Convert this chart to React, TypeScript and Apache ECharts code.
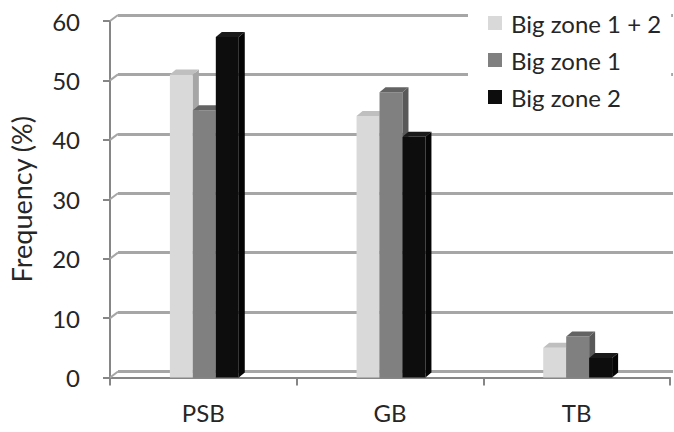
import React, { useEffect, useRef } from "react";
import * as echarts from "echarts";

const categories = ["PSB", "GB", "TB"];
const seriesNames = ["Big zone 1 + 2", "Big zone 1", "Big zone 2"];
const zone12 = [51, 44, 5];
const zone1 = [45, 48, 6.9];
const zone2 = [57.3, 40.5, 3.3];
const yTicks = [0, 10, 20, 30, 40, 50, 60];

const FONT = "Lato";
const TEXT = "#262626";
const FS = 24;
const faces = [
  { front: "#d9d9d9", side: "#a6a6a6", top: "#bfbfbf" },
  { front: "#808080", side: "#595959", top: "#636363" },
  { front: "#0d0d0d", side: "#050505", top: "#1a1a1a" },
];
const DX = 6;
const DY = 5;

function barRenderer(sIdx: number) {
  return (params: any, api: any) => {
    const cat = api.value(0);
    const val = api.value(1);
    const base = api.coord([cat, 0]);
    const topPt = api.coord([cat, val]);
    const band = api.size([1, 0])[0];
    const bw = band * 0.123;
    const left = base[0] + 1 - 1.5 * bw + sIdx * bw;
    const right = left + bw;
    const yb = base[1];
    const yt = topPt[1];
    const f = faces[sIdx];
    return {
      type: "group",
      children: [
        {
          type: "rect",
          shape: { x: left, y: yt, width: bw, height: yb - yt },
          style: { fill: f.front },
        },
        {
          type: "polygon",
          shape: {
            points: [
              [right, yt],
              [right + DX, yt - DY],
              [right + DX, yb - DY],
              [right, yb],
            ],
          },
          style: { fill: f.side },
        },
        {
          type: "polygon",
          shape: {
            points: [
              [left, yt],
              [left + DX, yt - DY],
              [right + DX, yt - DY],
              [right, yt],
            ],
          },
          style: { fill: f.top },
        },
      ],
    };
  };
}

export default function App() {
  const ref = useRef<HTMLDivElement>(null);
  useEffect(() => {
    if (!ref.current) return;
    const chart = echarts.init(ref.current, undefined, { renderer: "svg" });
    const seriesData = [zone12, zone1, zone2];
    const option: any = {
      animation: false,
      backgroundColor: "#ffffff",
      textStyle: { fontFamily: FONT, color: TEXT },
      grid: [
        { left: 110, right: 4, top: 21, bottom: 54.5 },
        { left: 118, right: 1, top: 15, bottom: 60.5 },
      ],
      xAxis: [
        {
          type: "category",
          gridIndex: 0,
          data: categories,
          axisLine: { show: true, lineStyle: { color: "#868686", width: 2 } },
          axisTick: { show: true, length: 8, lineStyle: { color: "#868686", width: 2 } },
          axisLabel: { fontFamily: FONT, fontSize: FS, color: TEXT, margin: 23 },
          splitLine: { show: false },
        },
        {
          type: "category",
          gridIndex: 1,
          data: categories,
          show: false,
        },
      ],
      yAxis: [
        {
          type: "value",
          gridIndex: 0,
          min: 0,
          max: 60,
          interval: 10,
          name: "Frequency (%)",
          nameLocation: "middle",
          nameGap: 75,
          nameTextStyle: { fontFamily: FONT, fontSize: 27, color: TEXT },
          axisLine: { show: true, lineStyle: { color: "#868686", width: 2 } },
          axisTick: { show: true, length: 7, lineStyle: { color: "#868686", width: 2 } },
          axisLabel: { fontFamily: FONT, fontSize: FS, color: TEXT, margin: 30 },
          splitLine: { show: false },
        },
        {
          type: "value",
          gridIndex: 1,
          min: 0,
          max: 60,
          interval: 10,
          axisLine: { show: false },
          axisTick: { show: false },
          axisLabel: { show: false },
          splitLine: { show: true, lineStyle: { color: "#a6a6a6", width: 3 } },
        },
      ],
      legend: {
        data: seriesNames,
        orient: "vertical",
        left: 468,
        top: 3,
        padding: [8, 10, 10, 20],
        backgroundColor: "#ffffff",
        itemWidth: 14,
        itemHeight: 14,
        itemGap: 13,
        icon: "rect",
        textStyle: { fontFamily: FONT, fontSize: FS, color: TEXT, padding: [0, 0, 0, 4] },
        z: 10,
      },
      series: [
        {
          type: "custom",
          name: "wall",
          xAxisIndex: 0,
          yAxisIndex: 0,
          silent: true,
          data: yTicks.map((v) => [0, v]),
          renderItem: (params: any, api: any) => {
            const y = api.coord([0, api.value(1)])[1];
            const x = params.coordSys.x;
            return {
              type: "line",
              shape: { x1: x, y1: y, x2: x + 8, y2: y - 6 },
              style: { stroke: "#a6a6a6", lineWidth: 2 },
            };
          },
          z: 1,
        },
        ...seriesNames.map((name, i) => ({
          type: "custom",
          name,
          xAxisIndex: 0,
          yAxisIndex: 0,
          itemStyle: { color: faces[i].front },
          data: seriesData[i].map((v, c) => [c, v]),
          renderItem: barRenderer(i),
          z: 3 + i,
        })),
      ],
    };
    chart.setOption(option);
    return () => chart.dispose();
  }, []);
  return <div ref={ref} style={{ width: 674, height: 432, position: "absolute", left: 0, top: 0 }} />;
}
